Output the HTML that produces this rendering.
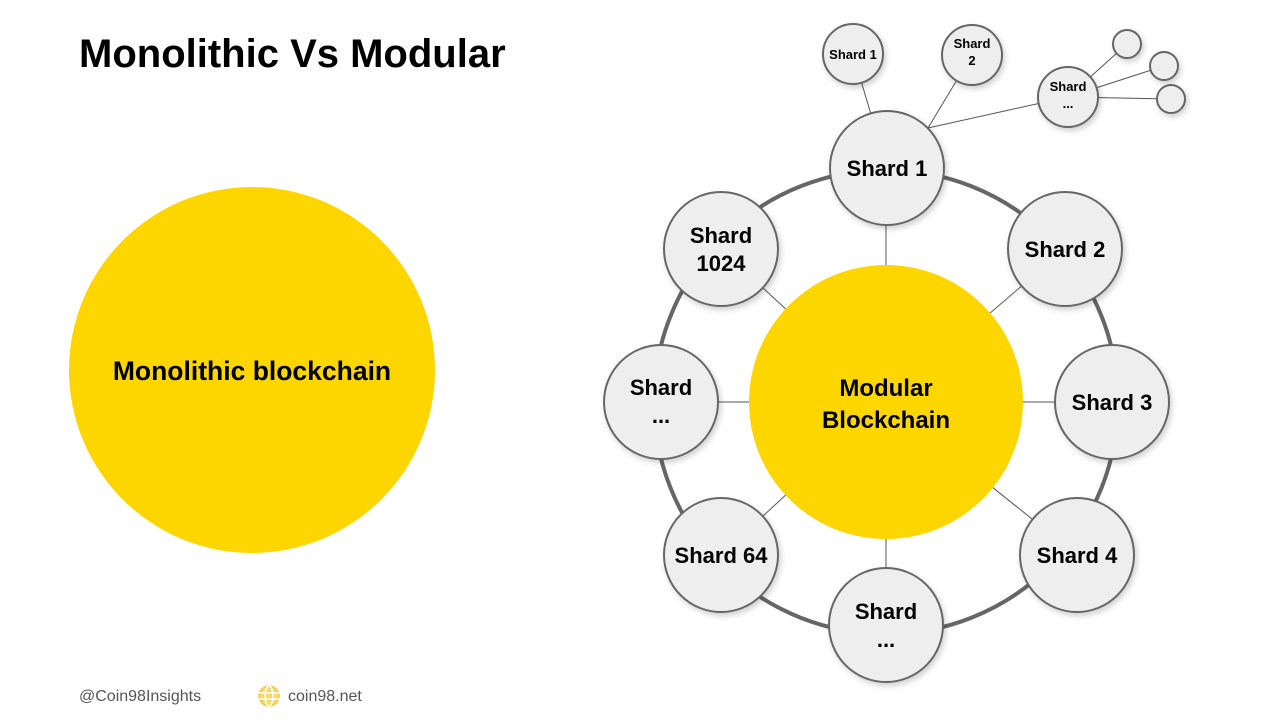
<!DOCTYPE html>
<html><head><meta charset="utf-8"><style>
body{margin:0;width:1280px;height:720px;background:#fff;overflow:hidden;font-family:"Liberation Sans",sans-serif}
</style></head><body>
<svg width="1280" height="720" xmlns="http://www.w3.org/2000/svg" font-family="Liberation Sans, sans-serif">
<defs><filter id="sh" x="-30%" y="-30%" width="160%" height="160%"><feDropShadow dx="2" dy="3" stdDeviation="3" flood-color="#000" flood-opacity="0.18"/></filter></defs>
<text x="79" y="67" font-size="40" font-weight="bold" fill="#000">Monolithic Vs Modular</text>
<circle cx="252" cy="370" r="183" fill="#FDD600"/>
<text x="252" y="380" font-size="26.5" font-weight="bold" text-anchor="middle">Monolithic blockchain</text>
<g stroke="#555" stroke-width="1">
<line x1="886" y1="402" x2="886" y2="168"/>
<line x1="886" y1="402" x2="1065" y2="249"/>
<line x1="886" y1="402" x2="1112" y2="402"/>
<line x1="886" y1="402" x2="1077" y2="555"/>
<line x1="886" y1="402" x2="886" y2="625"/>
<line x1="886" y1="402" x2="721" y2="555"/>
<line x1="886" y1="402" x2="661" y2="402"/>
<line x1="886" y1="402" x2="721" y2="249"/>
<line x1="887" y1="168" x2="853" y2="54"/>
<line x1="928" y1="128" x2="972" y2="55"/>
<line x1="928" y1="128" x2="1068" y2="97"/>
<line x1="1068" y1="97" x2="1127" y2="44"/>
<line x1="1068" y1="97" x2="1164" y2="66"/>
<line x1="1068" y1="97" x2="1171" y2="99"/>
</g>
<circle cx="886" cy="402" r="232" fill="none" stroke="#666" stroke-width="4"/>
<circle cx="886" cy="402" r="137" fill="#FDD600"/>
<text x="886" y="396" font-size="24" font-weight="bold" text-anchor="middle">Modular</text>
<text x="886" y="428" font-size="24" font-weight="bold" text-anchor="middle">Blockchain</text>
<g fill="#EEEEEE" stroke="#666" stroke-width="2" filter="url(#sh)">
<circle cx="887" cy="168" r="57"/>
<circle cx="1065" cy="249" r="57"/>
<circle cx="1112" cy="402" r="57"/>
<circle cx="1077" cy="555" r="57"/>
<circle cx="886" cy="625" r="57"/>
<circle cx="721" cy="555" r="57"/>
<circle cx="661" cy="402" r="57"/>
<circle cx="721" cy="249" r="57"/>
<circle cx="853" cy="54" r="30"/>
<circle cx="972" cy="55" r="30"/>
<circle cx="1068" cy="97" r="30"/>
<circle cx="1127" cy="44" r="14"/>
<circle cx="1164" cy="66" r="14"/>
<circle cx="1171" cy="99" r="14"/>
</g>
<g font-size="22" font-weight="bold" text-anchor="middle" fill="#000">
<text x="887" y="176">Shard 1</text>
<text x="1065" y="257">Shard 2</text>
<text x="1112" y="410">Shard 3</text>
<text x="1077" y="563">Shard 4</text>
<text x="886" y="619">Shard</text><text x="886" y="647">...</text>
<text x="721" y="563">Shard 64</text>
<text x="661" y="395">Shard</text><text x="661" y="423">...</text>
<text x="721" y="243">Shard</text><text x="721" y="271">1024</text>
</g>
<g font-size="13" font-weight="bold" text-anchor="middle" fill="#000">
<text x="853" y="59">Shard 1</text>
<text x="972" y="48">Shard</text><text x="972" y="65">2</text>
<text x="1068" y="91">Shard</text><text x="1068" y="108">...</text>
</g>
<text x="79" y="701" font-size="16" fill="#555">@Coin98Insights</text>
<g stroke="#F2C94C" stroke-width="1.5" fill="none">
<circle cx="269" cy="696" r="10" fill="#F7D968"/>
<ellipse cx="269" cy="696" rx="4" ry="10" stroke="#fff"/>
<line x1="259" y1="693" x2="279" y2="693" stroke="#fff"/>
<line x1="259" y1="699" x2="279" y2="699" stroke="#fff"/>
</g>
<text x="288" y="701" font-size="16" fill="#555">coin98.net</text>
</svg>
</body></html>
